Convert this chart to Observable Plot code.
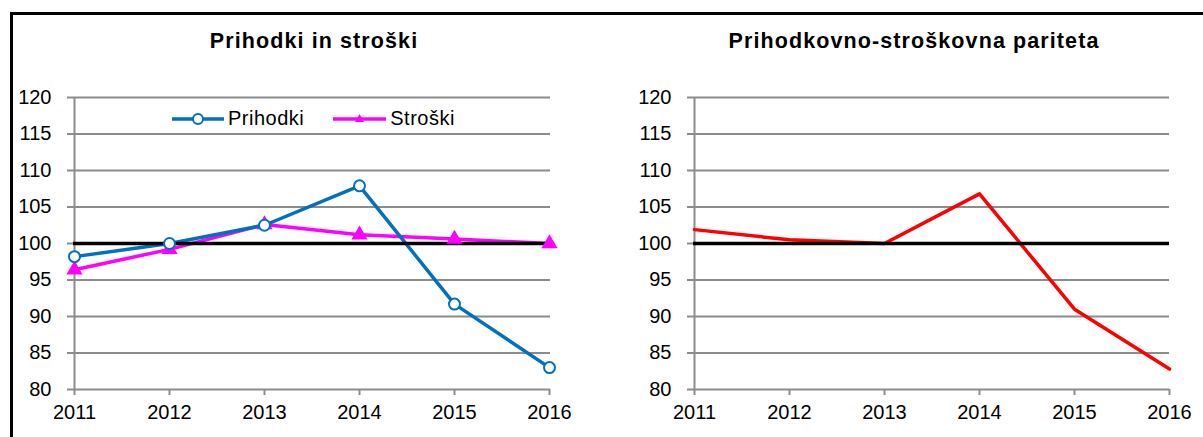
<!DOCTYPE html>
<html>
<head>
<meta charset="utf-8">
<script src="https://cdn.jsdelivr.net/npm/d3@7"></script>
<script src="https://cdn.jsdelivr.net/npm/@observablehq/plot@0.6"></script>
<style>
  html, body { margin: 0; padding: 0; background: #fff; }
  #wrap { position: relative; width: 1203px; height: 437px; overflow: hidden; font-family: "Liberation Sans", Arial, sans-serif; }
  #frame { position: absolute; left: 10px; top: 12px; width: 1200px; height: 440px; border-top: 3px solid #000; border-left: 3px solid #000; box-sizing: border-box; }
  .title { position: absolute; top: 29px; font-weight: bold; font-size: 21.5px; letter-spacing: 1.1px; color: #000; text-align: center; white-space: nowrap; }
  .chart { position: absolute; top: 0; }
  .legend { position: absolute; top: 107px; left: 172px; display: flex; align-items: center; font-size: 20px; letter-spacing: 0.5px; color: #000; }
  .legend .item { display: flex; align-items: center; }
  .legend svg { display: block; }
</style>
</head>
<body>
<div id="wrap">
  <div id="frame"></div>
  <div class="title" style="left:164px; width:300px;">Prihodki in stroški</div>
  <div class="title" style="left:664px; width:500px;">Prihodkovno-stroškovna pariteta</div>
  <div id="left" class="chart" style="left:0px;"></div>
  <div id="right" class="chart" style="left:600px;"></div>
  <div class="legend">
    <div class="item">
      <svg width="52" height="14"><line x1="0" y1="7" x2="52" y2="7" stroke="#0070C0" stroke-width="3.5"/><circle cx="26" cy="7" r="5" fill="#fff" stroke="#0070C0" stroke-width="2"/></svg>
      <span style="margin-left:4px;">Prihodki</span>
    </div>
    <div class="item" style="margin-left:29px;">
      <svg width="53" height="14"><line x1="0" y1="7" x2="53" y2="7" stroke="#FF00FF" stroke-width="3.5"/><path d="M26.5,2 L31,10 L22,10 Z" fill="#FF00FF"/></svg>
      <span style="margin-left:4px;">Stroški</span>
    </div>
  </div>
</div>
<script>
const years = [2011, 2012, 2013, 2014, 2015, 2016];
const prihodki = [98.2, 100.0, 102.5, 107.9, 91.7, 83.0];
const stroski = [96.4, 99.2, 102.6, 101.2, 100.6, 100.0];
const pariteta = [101.9, 100.5, 100.0, 106.8, 91.0, 82.8];
const yTicks = [80, 85, 90, 95, 100, 105, 110, 115, 120];
const baseline = [100];

const toRows = (vals) => years.map((year, i) => ({year, value: vals[i]}));

const gridColor = "#8c8c8c";

function baseMarks() {
  return [
    Plot.gridY(yTicks, {stroke: gridColor, strokeOpacity: 1, strokeWidth: 2}),
    Plot.axisY(yTicks, {tickSize: 6, stroke: gridColor, strokeWidth: 2, tickPadding: 16, fontSize: 20, fill: "#000", label: null}),
    Plot.axisX(years, {tickSize: 6, stroke: gridColor, strokeWidth: 2, tickPadding: 9, fontSize: 20, fill: "#000", label: null, tickFormat: d => String(d)}),
    Plot.ruleX([years[0]], {stroke: gridColor, strokeWidth: 2})
  ];
}

function scales(ml, mr, width) {
  return {
    width, height: 437,
    marginLeft: ml, marginRight: mr, marginTop: 97, marginBottom: 48,
    x: {type: "point", domain: years, padding: 0},
    y: {domain: [80, 120]},
    style: {fontFamily: "'Liberation Sans', Arial, sans-serif", background: "transparent", color: "#000", overflow: "visible"}
  };
}

const left = Plot.plot({
  ...scales(73, 50, 600),
  marks: [
    ...baseMarks(),
    Plot.line(toRows(stroski), {x: "year", y: "value", stroke: "#FF00FF", strokeWidth: 3.5}),
    Plot.line(toRows(prihodki), {x: "year", y: "value", stroke: "#0070C0", strokeWidth: 3.5}),
    Plot.ruleY(baseline, {stroke: "#000", strokeWidth: 3.5}),
    Plot.dot(toRows(stroski), {x: "year", y: "value", symbol: "triangle", r: 6, fill: "#FF00FF", stroke: "none"}),
    Plot.dot(toRows(prihodki), {x: "year", y: "value", symbol: "circle", r: 5.5, fill: "#fff", stroke: "#0070C0", strokeWidth: 2})
  ]
});
document.getElementById("left").appendChild(left);

const right = Plot.plot({
  ...scales(93, 34, 603),
  marks: [
    ...baseMarks(),
    Plot.line(toRows(pariteta), {x: "year", y: "value", stroke: "#FF0000", strokeWidth: 3.5}),
    Plot.ruleY(baseline, {stroke: "#000", strokeWidth: 3.5})
  ]
});
document.getElementById("right").appendChild(right);
</script>
</body>
</html>
